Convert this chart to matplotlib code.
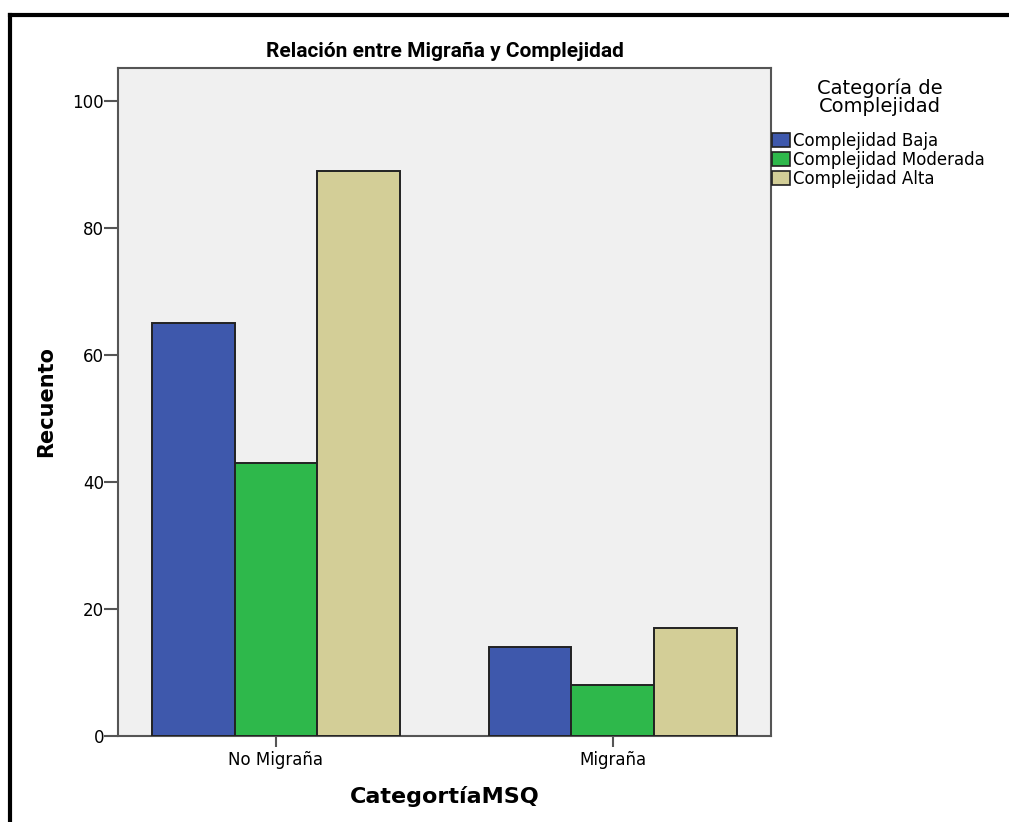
import numpy as np
import matplotlib.pyplot as plt
from matplotlib.lines import Line2D
from matplotlib.patches import Patch

# ---- DATA ----
groups = ["No Migraña", "Migraña"]
series = ["Complejidad Baja", "Complejidad Moderada", "Complejidad Alta"]
baja = [65, 14]
moderada = [43, 8]
alta = [89, 17]
colors = ["#3e58ac", "#2eb84b", "#d3ce97"]

fig = plt.figure(figsize=(10.09, 8.22), dpi=100)
ax = fig.add_axes([0.1169, 0.1046, 0.6472, 0.8127])
ax.set_facecolor("#f0f0f0")

x = np.arange(len(groups))
w = 0.246
for i, (vals, c) in enumerate(zip([baja, moderada, alta], colors)):
    ax.bar(x + (i - 1) * w, vals, width=w, color=c, edgecolor="#222222",
           linewidth=1.4, label=series[i], zorder=3)

ax.set_xlim(-0.469, 1.469)
ax.set_ylim(0, 105.2)
ax.set_yticks([0, 20, 40, 60, 80, 100])
ax.set_xticks(x)
ax.set_xticklabels(groups)

for s in ax.spines.values():
    s.set_color("#555555")
    s.set_linewidth(1.5)
ax.tick_params(axis="y", length=10, width=1.5, color="#555555", labelsize=12, pad=0)
ax.tick_params(axis="x", length=8, width=1.5, color="#555555", labelsize=12, pad=3)

ax.set_title("Relación entre Migraña y Complejidad", fontsize=15, fontweight="bold",
             family=["Roboto", "DejaVu Sans"], pad=8)
ax.set_ylabel("Recuento", fontsize=15, fontweight="bold", labelpad=12)
ax.set_xlabel("CategortíaMSQ", fontsize=16, fontweight="bold", labelpad=12)

# legend to the right of the plot, title drawn separately
fig.text(0.872, 1 - 78 / 822, "Categoría de\nComplejidad", ha="center", va="top",
         fontsize=14, linespacing=0.95, multialignment="center")
handles = [Patch(facecolor=c, edgecolor="#222222", linewidth=1.2) for c in colors]
leg = fig.legend(handles, series, loc="upper left",
                 bbox_to_anchor=(0.762, 1 - 128.7 / 822), frameon=False, fontsize=12,
                 handlelength=1.08, handleheight=0.9,
                 handletextpad=0.15, labelspacing=0.06, borderaxespad=0,
                 borderpad=0.2)

# black frame around the figure
fig.add_artist(Line2D([0.0095, 0.0095], [0.0, 0.9815], color="black", lw=3,
                      transform=fig.transFigure))
fig.add_artist(Line2D([0.0095, 1.0], [0.9815, 0.9815], color="black", lw=3,
                      transform=fig.transFigure))

fig.savefig("out.png", dpi=100)
